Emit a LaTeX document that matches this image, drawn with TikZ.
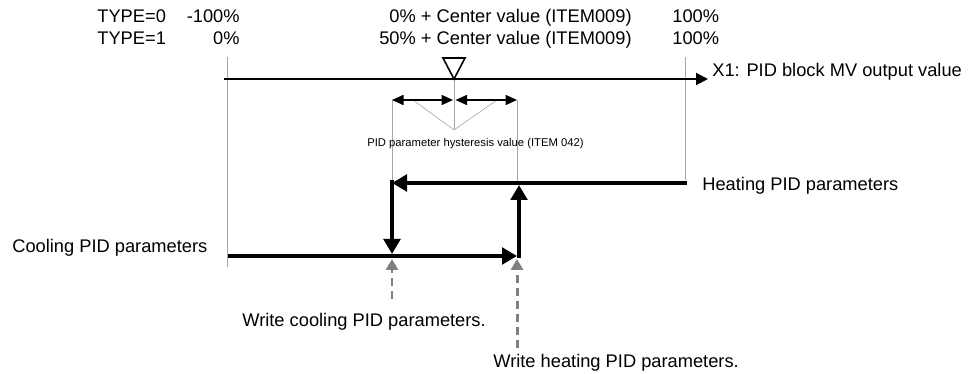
\documentclass[tikz,border=0pt]{standalone}
\usepackage{fontspec}
\setmainfont{Liberation Sans}
\usetikzlibrary{arrows.meta}

\begin{document}
\begin{tikzpicture}[x=0.02cm,y=-0.02cm,
  lbl/.style={font=\fontsize{10.4}{12}\selectfont,inner sep=0pt},
  smalllbl/.style={font=\fontsize{6.4}{8}\selectfont,inner sep=0pt},
  guide/.style={draw=black!35,line width=0.35pt},
  mvaxis/.style={line width=1.1pt,-{Triangle[length=0.24cm,width=0.24cm]}},
  thickarr/.style={line width=2.8pt,-{Triangle[length=0.3cm,width=0.33cm]}},
  hyst/.style={line width=0.9pt,
               {Triangle[length=0.23cm,width=0.2cm]}-{Triangle[length=0.23cm,width=0.2cm]}},
  trig/.style={draw=black!50,line width=1.7pt,dash pattern=on 0.16cm off 0.1cm,
               -{Triangle[length=0.22cm,width=0.24cm,fill=black!50]}},
]
  \useasboundingbox (0,0) rectangle (973,374);

  % scale rows
  \node[lbl,anchor=base west] (t0)    at (97,23)  {TYPE=0};
  \node[lbl,anchor=base east] (t0min) at (240,23) {-100\%};
  \node[lbl,anchor=base east] (t0mid) at (632,23) {0\% + Center value (ITEM009)};
  \node[lbl,anchor=base west] (t0max) at (672,23) {100\%};
  \node[lbl,anchor=base west] (t1)    at (97,45)  {TYPE=1};
  \node[lbl,anchor=base east] (t1min) at (240,45) {0\%};
  \node[lbl,anchor=base east] (t1mid) at (632,45) {50\% + Center value (ITEM009)};
  \node[lbl,anchor=base west] (t1max) at (672,45) {100\%};

  % MV axis
  \coordinate (mvL) at (224,79);
  \coordinate (mvR) at (708,79);
  \coordinate (ctr) at (454,79);
  \node[lbl,anchor=base west] (mvlbl) at (712,77) {X1: PID block MV output value};

  % guide lines
  \coordinate (g0t) at (227,57);  \coordinate (g0b) at (227,267);
  \coordinate (g1t) at (685,57);  \coordinate (g1b) at (685,180);
  \coordinate (hL) at (392,100);  \coordinate (hC) at (454,100);
  \coordinate (hR) at (517,100);  \coordinate (fan) at (454,130);
  \coordinate (heatL) at (392,183); \coordinate (heatM) at (517,183);
  \coordinate (heatR) at (687,183);
  \draw[guide] (g0t) -- (g0b);
  \draw[guide] (g1t) -- (g1b);
  \draw[guide] (ctr) -- (fan);
  \draw[guide] (413,100) -- (fan) -- (497,100);
  \draw[guide] (hL) -- (heatL);
  \draw[guide] (hR) -- (heatM);

  \draw[mvaxis] (mvL) -- (mvR);
  \draw[line width=0.9pt,fill=white] (443,58) -- (465,58) -- (ctr) -- cycle;

  % hysteresis
  \draw[hyst] (hL) -- ([xshift=-0.02cm]hC);
  \draw[hyst] ([xshift=0.03cm]hC) -- (hR);
  \node[smalllbl,anchor=base west] (hyslbl) at (367,147)
    {PID parameter hysteresis value (ITEM 042)};

  % switching path
  \coordinate (coolL) at (228,256);
  \coordinate (coolR) at (517,256);
  \coordinate (downB) at (392,254);
  \coordinate (upB) at (519,258.5);
  \coordinate (upT) at (519,185);
  \draw[thickarr] (heatR) -- (heatL);
  \draw[thickarr] ([yshift=0.05cm]heatL) -- (downB);
  \draw[thickarr] (coolL) -- (coolR);
  \draw[thickarr] (upB) -- (upT);
  \node[lbl,anchor=base west] (heat) at (702,191) {Heating PID parameters};
  \node[lbl,anchor=base west] (cool) at (12,253)  {Cooling PID parameters};

  % write triggers
  \coordinate (wcT) at (392,259);  \coordinate (wcB) at (392,299);
  \coordinate (whT) at (517,259);  \coordinate (whB) at (517,348);
  \draw[trig] (wcB) -- (wcT);
  \draw[trig] (whB) -- (whT);
  \node[lbl,anchor=base west] (wc) at (242,327) {Write cooling PID parameters.};
  \node[lbl,anchor=base west] (wh) at (493,368) {Write heating PID parameters.};
\end{tikzpicture}
\end{document}
